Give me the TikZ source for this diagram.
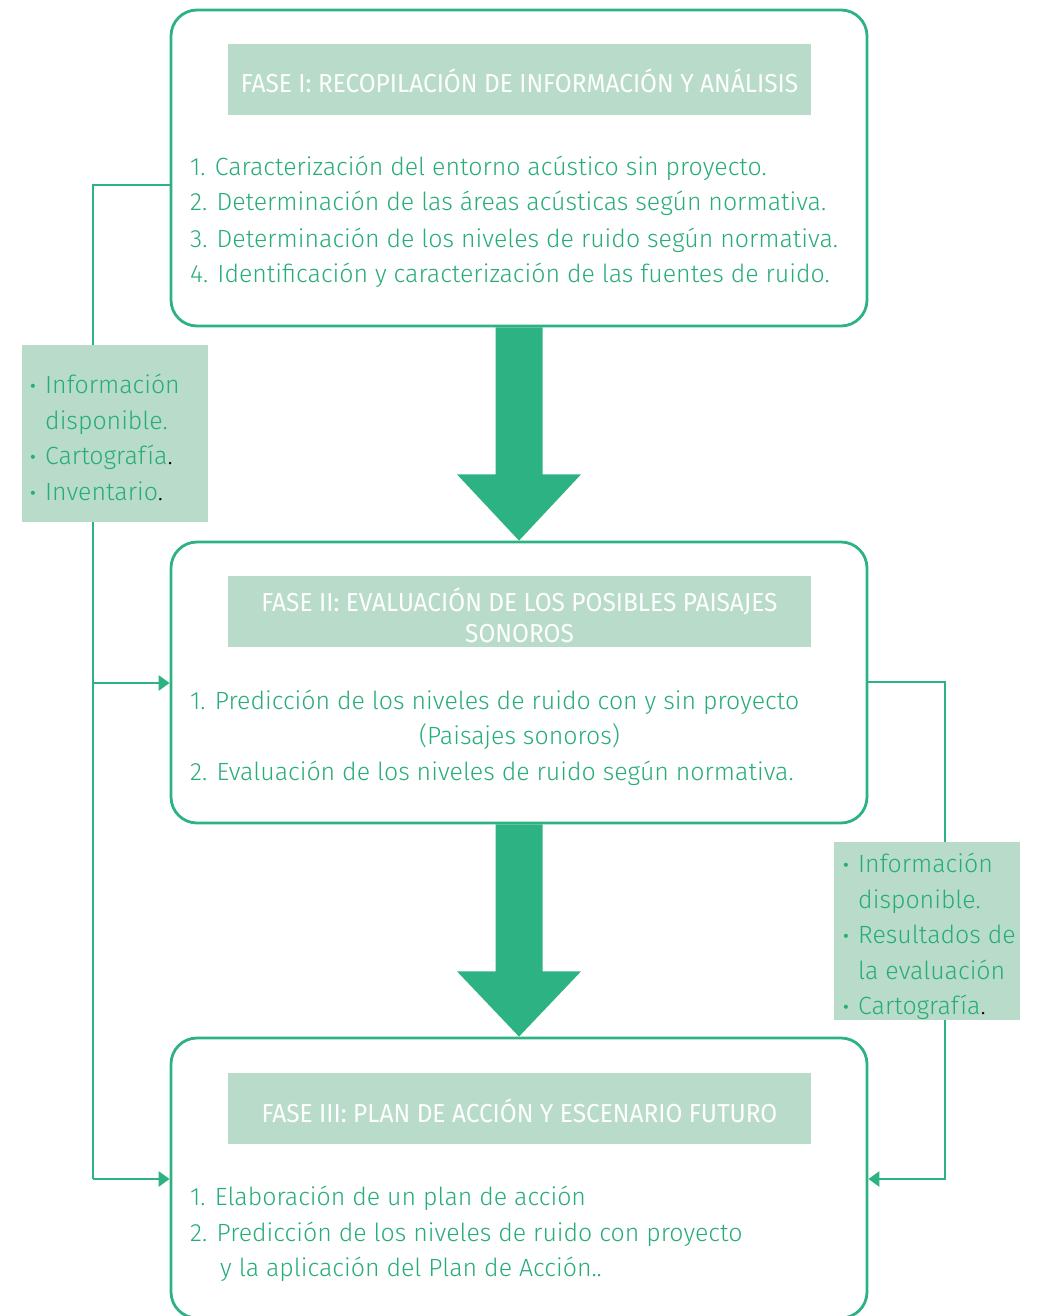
\documentclass[tikz,border=0pt]{standalone}
\usepackage{fontspec}
\setmainfont{Fira Sans Light}
\newfontfamily\condfont{Fira Sans}[FakeStretch=0.94]
\newfontfamily\bulfont{DejaVu Sans}
\usetikzlibrary{arrows.meta,calc}
\definecolor{gline}{HTML}{2DB383}
\definecolor{gtext}{HTML}{27AD77}
\definecolor{gbar}{HTML}{B8DCC9}
\tikzset{
  phase/.style={draw=gline,line width=2.8pt,rounded corners=26pt,minimum width=696pt,inner sep=0pt},
  bar/.style={fill=gbar,minimum width=583pt,minimum height=71pt,inner sep=0pt},
  ttl/.style={text=white,font=\condfont\fontsize{26}{31}\selectfont,anchor=base,inner sep=0pt},
  item/.style={text=gtext,font=\fontsize{24.9}{30}\selectfont,anchor=base west,inner sep=0pt},
  side/.style={fill=gbar,inner sep=0pt},
  conn/.style={draw=gline,line width=2.8pt},
  tip/.style={-{Triangle[length=11pt,width=15pt]}},
  bigarrow/.style={fill=gline},
  bul/.style={text=gtext,font=\bulfont\fontsize{14}{18}\selectfont,anchor=base,inner sep=0pt}
}
\begin{document}
\begin{tikzpicture}[x=1pt,y=-1pt]
\useasboundingbox (0,0) rectangle (1038,1316);
% phase boxes
\node[phase,minimum height=316pt] (b1) at (519,168) {};
\node[phase,minimum height=281pt] (b2) at (519,682.5) {};
\node[phase,minimum height=280pt] (b3) at (519,1178) {};
% title bars
\node[bar] (t1) at (519.5,79.5) {};
\node[bar] (t2) at (519.5,611.5) {};
\node[bar] (t3) at (519.5,1108) {};
\node[ttl] (t1a) at (519.5,93) {FASE I: RECOPILACIÓN DE INFORMACIÓN Y ANÁLISIS};
\node[ttl] (t2a) at (519.5,611) {FASE II: EVALUACIÓN DE LOS POSIBLES PAISAJES};
\node[ttl] (t2b) at (519.5,642) {SONOROS};
\node[ttl] (t3a) at (519.5,1122) {FASE III: PLAN DE ACCIÓN Y ESCENARIO FUTURO};
% items box 1
\node[item] (i11) at (190,176) {1. Caracterización del entorno acústico sin proyecto.};
\node[item] (i12) at (190,211) {2. Determinación de las áreas acústicas según normativa.};
\node[item] (i13) at (190,247) {3. Determinación de los niveles de ruido según normativa.};
\node[item] (i14) at (190,282) {4. Identificación y caracterización de las fuentes de ruido.};
% items box 2
\node[item] (i21) at (190,709) {1. Predicción de los niveles de ruido con y sin proyecto};
\node[item,anchor=base] (i22) at (519.5,744) {(Paisajes sonoros)};
\node[item] (i23) at (190,780) {2. Evaluación de los niveles de ruido según normativa.};
% items box 3
\node[item] (i31) at (190,1205) {1. Elaboración de un plan de acción};
\node[item] (i32) at (190,1241) {2. Predicción de los niveles de ruido con proyecto};
\node[item] (i33) at (220,1276) {y la aplicación del Plan de Acción..};
% big arrows
\fill[bigarrow] ($(b1.south)+(-23.5,0)$) -- ($(b1.south)+(23.5,0)$) -- ($(b1.south)+(23.5,147)$)
  -- ($(b1.south)+(62,147)$) -- (b2.north) -- ($(b1.south)+(-62,147)$) -- ($(b1.south)+(-23.5,147)$) -- cycle;
\fill[bigarrow] ($(b2.south)+(-23.5,0)$) -- ($(b2.south)+(23.5,0)$) -- ($(b2.south)+(23.5,147)$)
  -- ($(b2.south)+(62,147)$) -- (b3.north) -- ($(b2.south)+(-62,147)$) -- ($(b2.south)+(-23.5,147)$) -- cycle;
% left connector
\coordinate (L0) at ([yshift=-17pt]b1.west);
\coordinate (L1) at (93,185);
\coordinate (L3) at (93,683);
\coordinate (L2) at (93,1179);
\draw[conn] (L0) -- (L1) -- (L2);
\draw[conn,tip] (L3) -- (L3 -| b2.west);
\draw[conn,tip] (L2) -- (L2 -| b3.west);
% right connector
\coordinate (R1) at (945,682);
\coordinate (R2) at (945,1179);
\draw[conn,tip] (R1 -| b2.east) -- (R1) -- (R2) -- (R2 -| b3.east);
% left side box
\node[side,minimum width=186pt,minimum height=177pt] (s1) at (115,433.5) {};
\node[bul] (s1b1) at (33,391) {•};
\node[item] (s1a) at (45,393) {Información};
\node[item] (s1b) at (45,429) {disponible.};
\node[bul] (s1b2) at (33,462) {•};
\node[item] (s1c) at (45,464) {Cartografía\textcolor{black}{.}};
\node[bul] (s1b3) at (33,498) {•};
\node[item] (s1d) at (45,500) {Inventario\textcolor{black}{.}};
% right side box
\node[side,minimum width=186pt,minimum height=178pt] (s2) at (927,931) {};
\node[bul] (s2b1) at (846,870) {•};
\node[item] (s2a) at (858,872) {Información};
\node[item] (s2b) at (858,908) {disponible.};
\node[bul] (s2b2) at (846,941) {•};
\node[item] (s2c) at (858,943) {Resultados de};
\node[item] (s2d) at (858,979) {la evaluación};
\node[bul] (s2b3) at (846,1012) {•};
\node[item] (s2e) at (858,1014) {Cartografía\textcolor{black}{.}};
\end{tikzpicture}
\end{document}
